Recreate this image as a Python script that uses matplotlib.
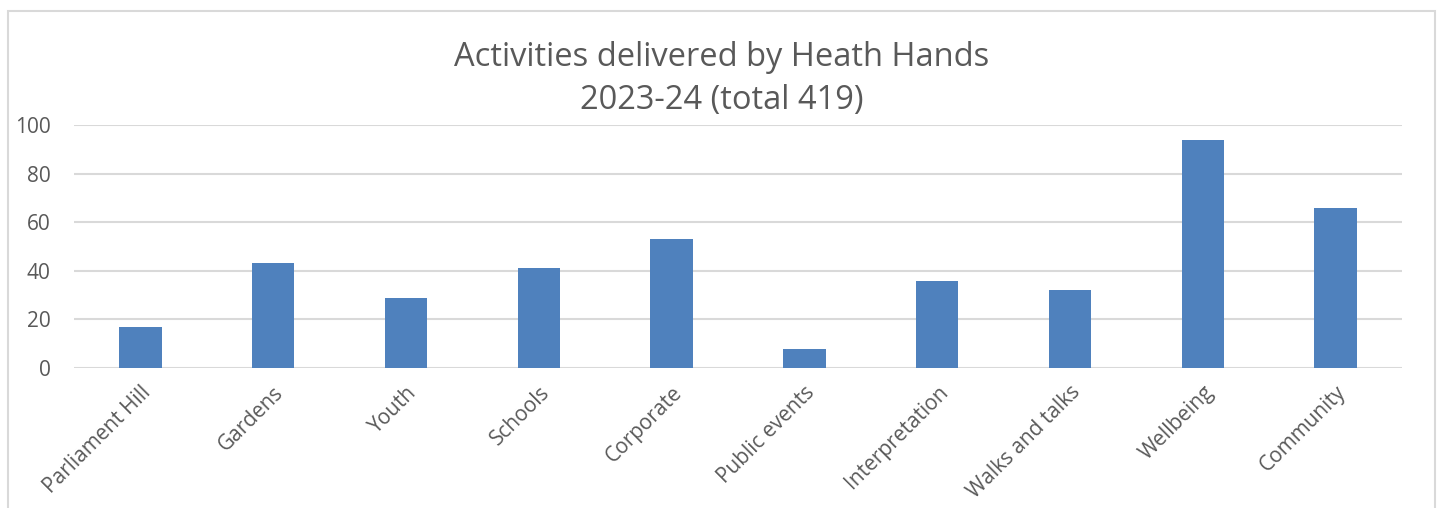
import matplotlib.pyplot as plt
from matplotlib.patches import Rectangle

categories = ['Parliament Hill', 'Gardens', 'Youth', 'Schools', 'Corporate',
              'Public events', 'Interpretation', 'Walks and talks', 'Wellbeing', 'Community']
activities = [17, 43, 29, 41, 53, 8, 36, 32, 94, 66]
y_ticks = [0, 20, 40, 60, 80, 100]

plt.rcParams['font.family'] = ['Open Sans', 'DejaVu Sans']
text_grey = '#595959'
grid_grey = '#d9d9d9'

fig = plt.figure(figsize=(14.43, 5.08), dpi=100)
ax = fig.add_axes([0.0513, 0.2756, 0.9203, 0.4784])

x = list(range(len(categories)))
ax.bar(x, activities, width=0.32, color='#4f81bd', zorder=3)

ax.set_xlim(-0.5, len(categories) - 0.5)
ax.set_ylim(0, 100)
ax.set_yticks(y_ticks)
ax.set_xticks(x)
ax.set_xticklabels(categories, rotation=45, ha='right', rotation_mode='anchor')
ax.grid(axis='y', color=grid_grey, linewidth=1.5, zorder=0)
for s in ax.spines.values():
    s.set_visible(False)
ax.tick_params(axis='both', length=0, labelsize=15, colors=text_grey)
ax.tick_params(axis='y', pad=17)
ax.tick_params(axis='x', pad=10)

fig.text(0.5, 0.887, 'Activities delivered by Heath Hands', ha='center', va='center',
         fontsize=23.5, color=text_grey)
fig.text(0.5, 0.802, '2023-24 (total 419)', ha='center', va='center',
         fontsize=23.5, color=text_grey)

# chart area border (bottom edge runs off the image)
fig.patches.append(Rectangle((8 / 1443, -0.1), (1435 - 8) / 1443, 1.1 - 11 / 508,
                             transform=fig.transFigure, fill=False,
                             edgecolor=grid_grey, linewidth=1.5))

fig.savefig('out.png', dpi=100)
